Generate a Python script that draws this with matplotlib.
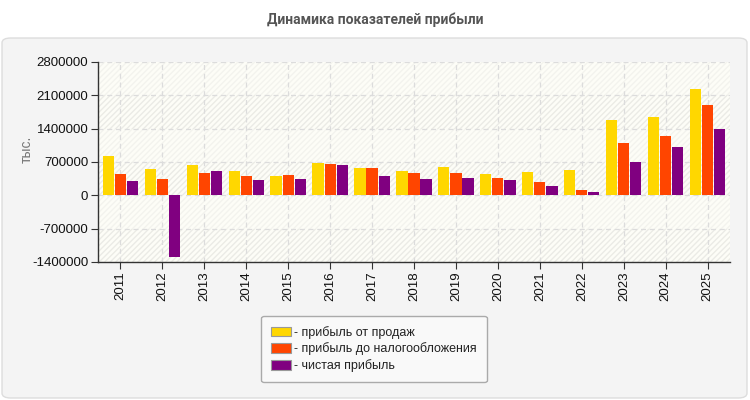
import matplotlib
matplotlib.use("Agg")
import matplotlib.pyplot as plt
from matplotlib.patches import FancyBboxPatch, Patch
import numpy as np

years = ["2011", "2012", "2013", "2014", "2015", "2016", "2017", "2018",
         "2019", "2020", "2021", "2022", "2023", "2024", "2025"]
sales_profit = [836000, 562000, 646000, 520000, 415000, 688000, 583000, 520000,
                604000, 457000, 499000, 541000, 1572000, 1636000, 2225000]
pretax_profit = [457000, 351000, 478000, 415000, 436000, 667000, 583000, 478000,
                 478000, 373000, 288000, 120000, 1109000, 1236000, 1888000]
net_profit = [309000, -1305000, 520000, 331000, 352000, 646000, 415000, 352000,
              373000, 331000, 204000, 78000, 709000, 1025000, 1383000]
series_labels = ["- прибыль от продаж", "- прибыль до налогообложения", "- чистая прибыль"]
colors = ["#FFD700", "#FF4500", "#800080"]
yticks = [-1400000, -700000, 0, 700000, 1400000, 2100000, 2800000]

plt.rcParams['font.family'] = ['Liberation Sans', 'DejaVu Sans']

W, H = 750, 400
fig = plt.figure(figsize=(7.5, 4), dpi=100)
fig.patch.set_facecolor("white")

# panel
panel = FancyBboxPatch((2 / W, 2 / H), 745 / W, (H - 38 - 2) / H,
                       boxstyle="round,pad=0,rounding_size=0.012",
                       transform=fig.transFigure, facecolor="#f4f4f4",
                       edgecolor="#dddddd", linewidth=1, zorder=-5)
fig.patches.append(panel)

fig.text(375 / W, 1 - 20 / H, "Динамика показателей прибыли", ha="center", va="center",
         fontsize=10, fontweight="bold", color="#555555", family=["Roboto", "DejaVu Sans"])

ax = fig.add_axes([98 / W, 1 - 262 / H, (730 - 98) / W, (262 - 62) / H])
ax.set_zorder(2)
ax.set_facecolor("#fdfdf7")
ax.set_xlim(-0.53, 14.53)
ax.set_ylim(-1400000, 2800000)

# background bands
for i in range(len(yticks) - 1):
    lo, hi = yticks[i], yticks[i + 1]
    hcol = "#ebebe6" if i % 2 == 0 else "#f3f3ee"
    ax.axhspan(lo, hi, facecolor="none", edgecolor=hcol, hatch="//////",
               linewidth=0, zorder=0)

x = np.arange(len(years))
w = 0.265
off = 0.287
for vals, col, dx in zip([sales_profit, pretax_profit, net_profit], colors, [-off, 0, off]):
    ax.bar(x + dx, vals, width=w, color=col, zorder=3, linewidth=0)

ax.set_yticks(yticks)
ax.set_yticklabels([str(v) for v in yticks], fontsize=9.5, color="#111111")
ax.set_xticks(x)
ax.set_xticklabels(years, rotation=90, fontsize=9.5, color="#111111")
ax.grid(True, color="#dcdcdc", linestyle=(0, (4, 3)), linewidth=0.9, zorder=1)
for s in ["top", "right"]:
    ax.spines[s].set_visible(False)
for s in ["left", "bottom"]:
    ax.spines[s].set_color("#333333")
    ax.spines[s].set_linewidth(1)
ax.tick_params(axis="both", length=5, color="#333333", pad=2)

fig.text(27 / W, 1 - 149 / H, "тыс.", rotation=90, ha="center", va="center",
         fontsize=10, color="#777777")

handles = [Patch(facecolor=c, edgecolor="#999999", linewidth=0.8) for c in colors]
leg = fig.legend(handles, series_labels, loc="center",
                 bbox_to_anchor=(374 / W, 1 - 349 / H), fontsize=9,
                 frameon=True, fancybox=True, handlelength=1.6, handleheight=0.8,
                 handletextpad=0.2, labelspacing=0.3, borderpad=0.8,
                 borderaxespad=0)
leg.set_zorder(3)
leg.get_frame().set_facecolor("#f9f9f9")
leg.get_frame().set_edgecolor("#aaaaaa")
leg.get_frame().set_alpha(1)
for t in leg.get_texts():
    t.set_color("#222222")

fig.savefig("out.png", dpi=100, facecolor=fig.get_facecolor())
